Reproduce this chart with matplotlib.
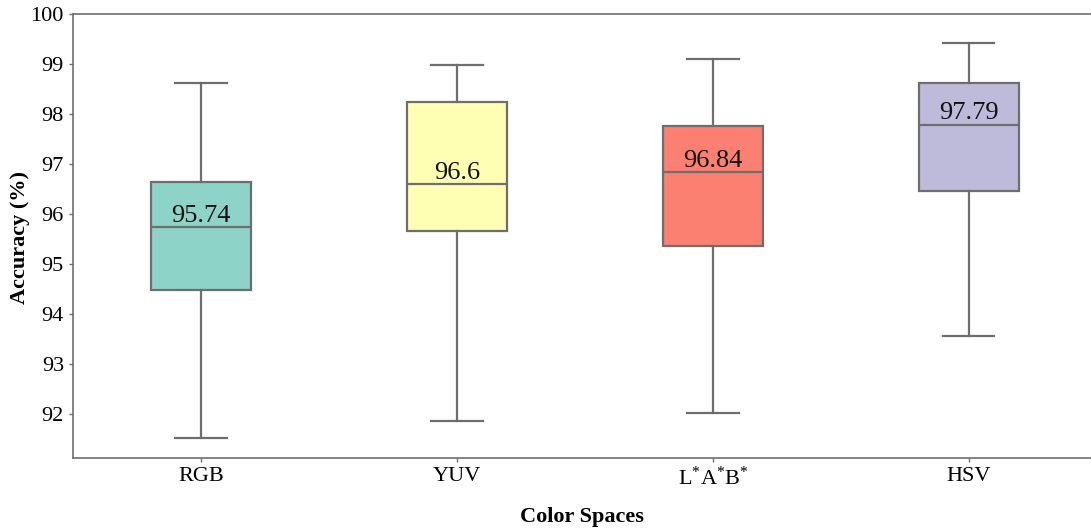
import matplotlib
matplotlib.use("Agg")
import matplotlib.pyplot as plt

plt.rcParams['font.family'] = ['Liberation Serif', 'DejaVu Serif']
plt.rcParams['mathtext.fontset'] = 'custom'
plt.rcParams['mathtext.rm'] = 'Liberation Serif'
plt.rcParams['mathtext.it'] = 'Liberation Serif'

# data
labels = ['RGB', 'YUV', r'$\mathrm{L^{*}A^{*}B^{*}}$', 'HSV']
whislo = [91.52, 91.86, 92.02, 93.56]
q1 = [94.48, 95.66, 95.36, 96.46]
med = [95.74, 96.60, 96.84, 97.79]
q3 = [96.64, 98.24, 97.76, 98.62]
whishi = [98.62, 98.98, 99.10, 99.42]
med_text = ['95.74', '96.6', '96.84', '97.79']
colors = ['#8dd3c7', '#ffffb3', '#fb8072', '#bebada']

stats = []
for i in range(len(labels)):
    stats.append(dict(label=labels[i], whislo=whislo[i], q1=q1[i], med=med[i],
                      q3=q3[i], whishi=whishi[i], fliers=[]))

fig = plt.figure(figsize=(10.91, 5.31), dpi=100)
ax = fig.add_axes([0.0669, 0.1375, 0.9331, 0.8361])

gray = '#6e6e6e'
lw = 1.6
bp = ax.bxp(stats, positions=range(len(labels)), widths=0.39, patch_artist=True,
            showfliers=False,
            boxprops=dict(edgecolor=gray, linewidth=lw),
            medianprops=dict(color=gray, linewidth=lw),
            whiskerprops=dict(color=gray, linewidth=lw),
            capprops=dict(color=gray, linewidth=lw),
            capwidths=0.2)
for patch, c in zip(bp['boxes'], colors):
    patch.set_facecolor(c)

for i, t in enumerate(med_text):
    ax.text(i, med[i] + 0.01, t, ha='center', va='bottom', fontsize=19, color='#111111')

ax.set_xlim(-0.5, 3.477)
ax.set_ylim(91.12, 100)
ax.set_yticks(range(92, 101))
ax.set_xticks(range(len(labels)))
ax.set_xticklabels(labels)
ax.tick_params(axis='both', labelsize=16, color=gray, length=3, width=1)
for s in ax.spines.values():
    s.set_color(gray)
    s.set_linewidth(1.2)
ax.spines['right'].set_visible(False)

fig.text(20 / 1091, 1 - 237 / 531, 'Accuracy (%)', rotation=90, ha='center', va='center',
         fontsize=16, fontweight='bold')
fig.text(582 / 1091, 1 - 517 / 531, 'Color Spaces', ha='center', va='center',
         fontsize=16, fontweight='bold')

fig.savefig('out.png', dpi=100)
